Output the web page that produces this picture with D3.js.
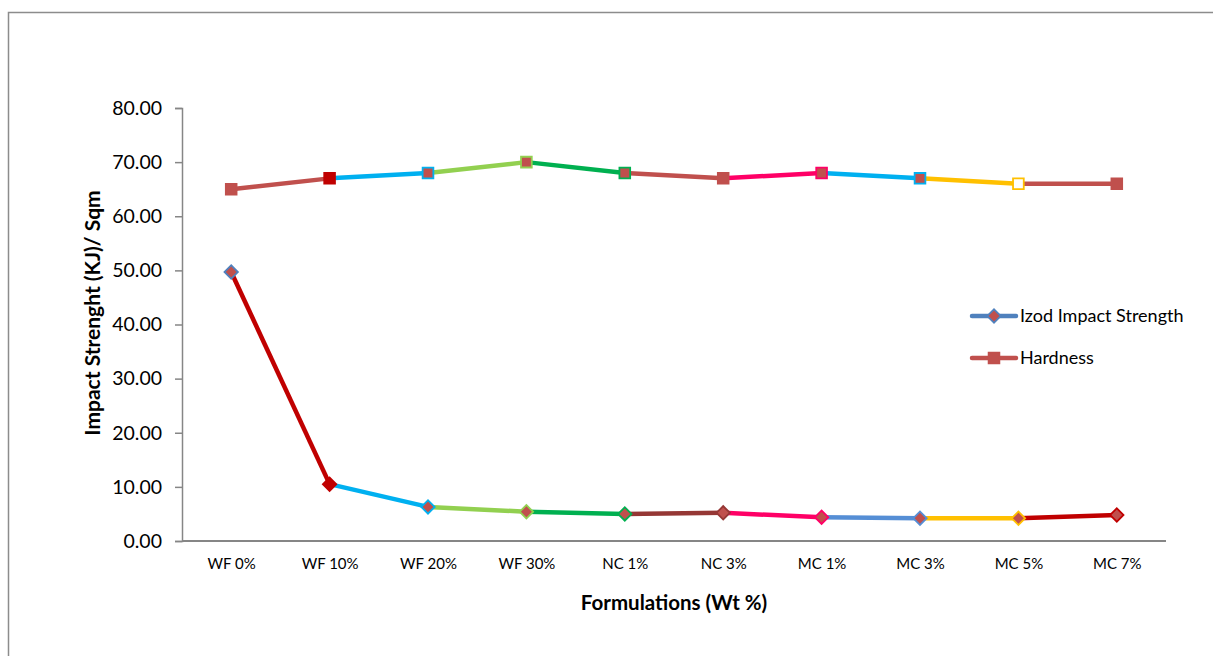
<!DOCTYPE html>
<html>
<head>
<meta charset="utf-8">
<script src="https://cdn.jsdelivr.net/npm/d3@7"></script>
<style>
  body { margin: 0; background: #fff; }
  svg { display: block; font-family: Lato, "Open Sans", sans-serif; }
</style>
</head>
<body>
<div id="chart"></div>
<script>
var categories = ["WF 0%", "WF 10%", "WF 20%", "WF 30%", "NC 1%", "NC 3%", "MC 1%", "MC 3%", "MC 5%", "MC 7%"];
var izod = [49.7, 10.5, 6.3, 5.4, 5.0, 5.2, 4.4, 4.2, 4.2, 4.8];
var hardness = [65, 67, 68, 70, 68, 67, 68, 67, 66, 66];
var yTicks = [0, 10, 20, 30, 40, 50, 60, 70, 80];
var seriesNames = ["Izod Impact Strength", "Hardness"];

// colour of the segment that ends at point i (i >= 1), per series
var izodSegColors = [null, "#C00000", "#00B0F0", "#92D050", "#00B050", "#953735", "#FF0066", "#558ED5", "#FFC000", "#C00000"];
var hardSegColors = [null, "#C0504D", "#00B0F0", "#92D050", "#00B050", "#C0504D", "#FF0066", "#00B0F0", "#FFC000", "#C0504D"];
var izodMarkStroke = ["#4F81BD", "#C00000", "#00B0F0", "#92D050", "#00B050", "#953735", "#FF0066", "#558ED5", "#FFC000", "#C00000"];
var izodMarkFill = ["#C0504D", "#C00000", "#C0504D", "#C0504D", "#C0504D", "#C0504D", "#C0504D", "#C0504D", "#C0504D", "#C0504D"];
var hardMarkStroke = ["#C0504D", "#C00000", "#00B0F0", "#92D050", "#00B050", "#C0504D", "#FF0066", "#00B0F0", "#FFC000", "#C0504D"];
var hardMarkFill = ["#C0504D", "#C00000", "#C0504D", "#C0504D", "#C0504D", "#C0504D", "#C0504D", "#C0504D", "#FFFFFF", "#C0504D"];

const W = 1214, H = 656;
const svg = d3.select("#chart").append("svg").attr("width", W).attr("height", H);

// outer frame (top + left visible)
svg.append("path").attr("d", "M8.5,656 L8.5,12.5 L1213,12.5")
  .attr("fill", "none").attr("stroke", "#8c8c8c").attr("stroke-width", 1.5);

const x = d3.scalePoint().domain(categories).range([182, 1166]).padding(0.5);
const y = d3.scaleLinear().domain([0, 80]).range([541, 108]);

// y axis
const yAxis = svg.append("g").attr("transform", "translate(182,0)")
  .call(d3.axisLeft(y).tickValues(yTicks).tickFormat(d3.format(".2f")).tickSize(7).tickPadding(13));
yAxis.select(".domain").attr("stroke", "#868686").attr("stroke-width", 1.5);
yAxis.selectAll(".tick line").attr("stroke", "#868686").attr("stroke-width", 1.5);
yAxis.selectAll("text").attr("font-size", 19.5).attr("fill", "#000").attr("font-family", "Lato, sans-serif");

// x axis
const xAxis = svg.append("g").attr("transform", "translate(0,541)")
  .call(d3.axisBottom(x).tickSize(0).tickPadding(17));
xAxis.select(".domain").attr("d", "M182,0H1166").attr("stroke", "#868686").attr("stroke-width", 2);
xAxis.selectAll("text").attr("font-size", 15).attr("fill", "#000").attr("font-family", "Lato, sans-serif");

// axis titles
svg.append("text").attr("transform", "translate(100,313) rotate(-90)")
  .attr("text-anchor", "middle").attr("font-size", 21).attr("font-weight", "bold")
  .text("Impact Strenght (KJ)/ Sqm");
svg.append("text").attr("x", 674).attr("y", 610)
  .attr("text-anchor", "middle").attr("font-size", 20.5).attr("font-weight", "bold")
  .text("Formulations (Wt %)");

const line = d3.line().x(d => x(d.c)).y(d => y(d.v));

function drawSeries(values, segColors, markFill, markStroke, rot, size) {
  const pts = values.map((v, i) => ({ c: categories[i], v: v }));
  for (let i = 1; i < pts.length; i++) {
    svg.append("path").datum([pts[i - 1], pts[i]])
      .attr("d", line).attr("fill", "none")
      .attr("stroke", segColors[i]).attr("stroke-width", 4.5);
  }
  svg.selectAll(null).data(pts).enter().append("path")
    .attr("d", d3.symbol().type(d3.symbolSquare).size(size))
    .attr("transform", d => `translate(${x(d.c)},${y(d.v)}) rotate(${rot})`)
    .attr("fill", (d, i) => markFill[i])
    .attr("stroke", (d, i) => markStroke[i])
    .attr("stroke-width", 1.8);
}

drawSeries(hardness, hardSegColors, hardMarkFill, hardMarkStroke, 0, 115);
drawSeries(izod, izodSegColors, izodMarkFill, izodMarkStroke, 45, 90);

// legend
const legend = svg.append("g").attr("transform", "translate(972,316)");
const legendStyle = [
  { line: "#4F81BD", fill: "#C0504D", stroke: "#4F81BD", rot: 45, size: 90 },
  { line: "#C0504D", fill: "#C0504D", stroke: "#C0504D", rot: 0, size: 115 }
];
seriesNames.forEach((name, i) => {
  const g = legend.append("g").attr("transform", `translate(0,${i * 42})`);
  g.append("line").attr("x1", 0).attr("x2", 44).attr("stroke", legendStyle[i].line)
    .attr("stroke-width", 4.5).attr("stroke-linecap", "round");
  g.append("path").attr("d", d3.symbol().type(d3.symbolSquare).size(legendStyle[i].size))
    .attr("transform", `translate(22,0) rotate(${legendStyle[i].rot})`)
    .attr("fill", legendStyle[i].fill).attr("stroke", legendStyle[i].stroke).attr("stroke-width", 1.8);
  g.append("text").attr("x", 48).attr("dy", "0.35em").attr("font-size", 18).attr("fill", "#000").text(name);
});
</script>
</body>
</html>
